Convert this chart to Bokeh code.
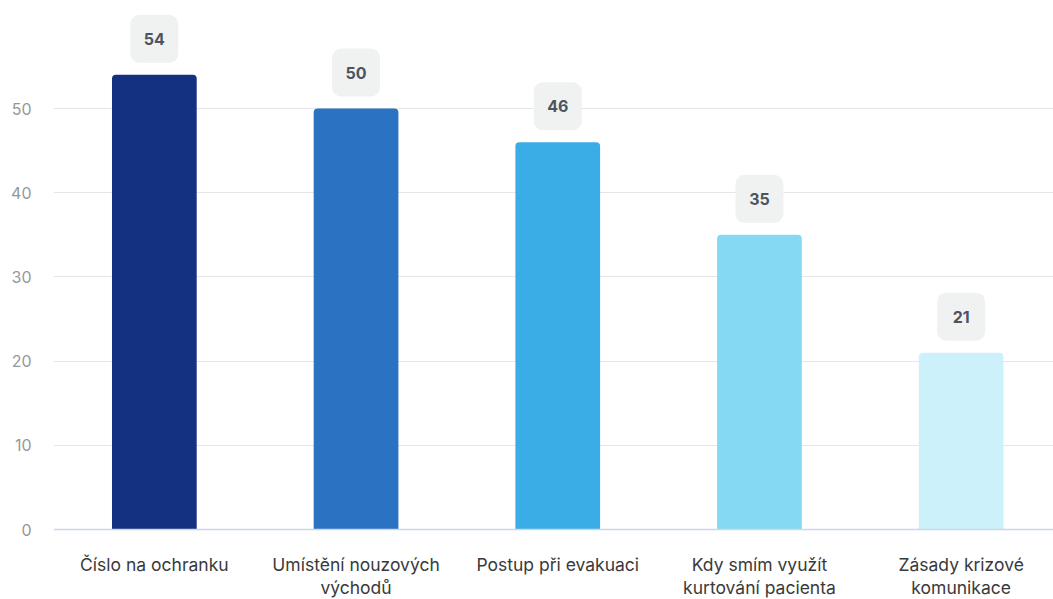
from bokeh.plotting import figure
from bokeh.models import ColumnDataSource, FixedTicker, Range1d, Span
from bokeh.core.properties import value
from bokeh.embed import file_html
from bokeh.resources import INLINE

categories = [
    "Číslo na ochranku",
    "Umístění nouzových\nvýchodů",
    "Postup při evakuaci",
    "Kdy smím využít\nkurtování pacienta",
    "Zásady krizové\nkomunikace",
]
counts = [54, 50, 46, 35, 21]
colors = ["#133180", "#2c72c3", "#3aade6", "#85d9f3", "#cdf1fa"]
y_ticks = [0, 10, 20, 30, 40, 50]

W, H = 1053, 599
LEFT = 53
SLOT_PX = 201.7         # horizontal space given to each category
PX_PER_UNIT = 8.42      # vertical scale of the value axis
BASE_PX = 529           # screen row of the zero line
Y_START = -(H - BASE_PX) / PX_PER_UNIT
Y_END = BASE_PX / PX_PER_UNIT
label_lift = 36         # pixels between bar top and the value badge centre

positions = list(range(len(categories)))

src = ColumnDataSource(dict(
    x=positions,
    count=counts,
    color=colors,
    badge_y=[c + label_lift / PX_PER_UNIT for c in counts],
    label=[str(c) for c in counts],
    line1=[c.split("\n")[0] for c in categories],
    line2=[(c.split("\n") + [""])[1] for c in categories],
    zero=[0] * len(categories),
))

p = figure(
    x_range=Range1d(-0.5, -0.5 + (W - LEFT) / SLOT_PX),
    y_range=Range1d(Y_START, Y_END),
    width=W, height=H, output_backend="svg", toolbar_location=None,
    min_border_left=LEFT, min_border_right=0, min_border_top=0,
    min_border_bottom=0,
)
p.outline_line_color = None
p.background_fill_color = "white"
p.border_fill_color = "white"
p.xaxis.visible = False

p.vbar(x="x", top="count", width=0.42, source=src,
       fill_color="color", line_color=None, border_radius=(4, 4, 0, 0))

# baseline under the bars
p.add_layout(Span(location=0, dimension="width", line_color="#ccd6eb",
                  line_width=1.5))

# value badges
p.rect(x="x", y="badge_y", width=48, height=48,
       width_units="screen", height_units="screen", source=src,
       fill_color="#f0f2f2", line_color=None, border_radius=9)
p.text(x="x", y="badge_y", text="label", source=src,
       text_align="center", text_baseline="middle",
       text_font=value("Inter"), text_font_style="bold",
       text_font_size="16px", text_color="#4d5461")

# category names below the baseline
for col, off in (("line1", 35), ("line2", 58)):
    p.text(x="x", y="zero", text=col, source=src, y_offset=off,
           text_align="center", text_baseline="middle",
           text_font=value("Inter"), text_font_size="17.5px",
           text_color="#3a3a3a")

# y axis: labels only
p.yaxis.ticker = FixedTicker(ticks=y_ticks)
p.yaxis.axis_line_color = None
p.yaxis.major_tick_line_color = None
p.yaxis.minor_tick_line_color = None
p.yaxis.major_tick_out = 0
p.yaxis.minor_tick_out = 0
p.yaxis.major_label_standoff = 22
p.yaxis.major_label_text_font = "Inter"
p.yaxis.major_label_text_font_size = "16px"
p.yaxis.major_label_text_color = "#94979c"

p.xgrid.grid_line_color = None
p.ygrid.grid_line_color = "#e6e6e6"
p.ygrid.grid_line_width = 1.2
p.ygrid.ticker = FixedTicker(ticks=y_ticks[1:])

open("out.html", "w").write(file_html(p, INLINE))
